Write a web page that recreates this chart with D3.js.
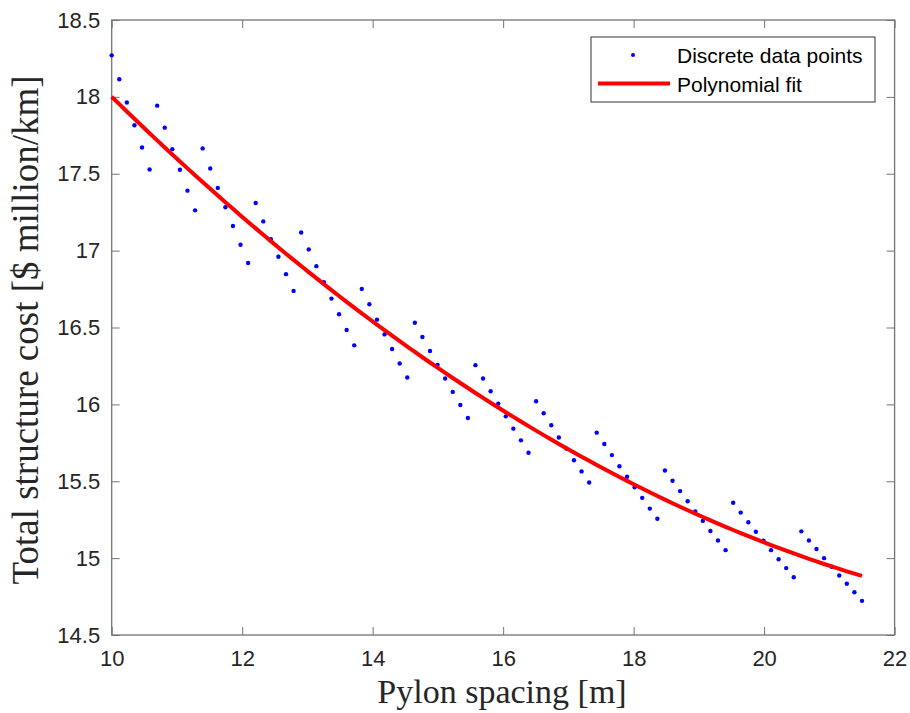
<!DOCTYPE html>
<html>
<head>
<meta charset="utf-8">
<script src="https://cdn.jsdelivr.net/npm/d3@7"></script>
<style>
  body { margin: 0; background: #fff; }
  svg { display: block; }
</style>
</head>
<body>
<svg id="chart" width="910" height="713"></svg>
<script>
// cost per km; x runs linspace(10, 21.5, 100)
var xStart = 10, xEnd = 21.5, nPoints = 100;
var costValues = [
  18.27, 18.115, 17.963, 17.815, 17.671, 17.528,
  17.943, 17.80, 17.66, 17.526, 17.39, 17.262,
  17.665, 17.534, 17.408, 17.282, 17.16, 17.038, 16.92,
  17.31, 17.19, 17.075, 16.96, 16.847, 16.738,
  17.118, 17.008, 16.899, 16.795, 16.688, 16.586, 16.484, 16.384,
  16.751, 16.651, 16.551, 16.455, 16.36, 16.266, 16.175,
  16.531, 16.438, 16.347, 16.257, 16.168, 16.081, 15.996, 15.911,
  16.255, 16.168, 16.085, 16.004, 15.922, 15.842, 15.766, 15.685,
  16.02, 15.942, 15.864, 15.785, 15.712, 15.637, 15.564, 15.492,
  15.816, 15.742, 15.670, 15.598, 15.529, 15.461, 15.392, 15.322, 15.256,
  15.57, 15.503, 15.436, 15.37, 15.304, 15.242, 15.176, 15.115, 15.052,
  15.36, 15.296, 15.233, 15.172, 15.113, 15.052, 14.993, 14.935, 14.876,
  15.174, 15.115, 15.059, 15.0, 14.944, 14.887, 14.833, 14.778, 14.722
];
var xTicks = [10, 12, 14, 16, 18, 20, 22];
var yTicks = [14.5, 15, 15.5, 16, 16.5, 17, 17.5, 18, 18.5];
var legendLabels = ["Discrete data points", "Polynomial fit"];

var spacing = costValues.map(function (d, i) {
  return xStart + i * (xEnd - xStart) / (nPoints - 1);
});

// quadratic least squares, same as polyfit(x, y, 2)
function quadFit(xs, ys) {
  var S = [0, 0, 0, 0, 0], T = [0, 0, 0];
  for (var i = 0; i < xs.length; i++) {
    var u = xs[i] - 10, p = 1;
    for (var k = 0; k < 5; k++) { S[k] += p; if (k < 3) T[k] += p * ys[i]; p *= u; }
  }
  var A = [[S[0], S[1], S[2], T[0]], [S[1], S[2], S[3], T[1]], [S[2], S[3], S[4], T[2]]];
  for (var c = 0; c < 3; c++) {
    for (var r = c + 1; r < 3; r++) {
      var f = A[r][c] / A[c][c];
      for (var j = c; j < 4; j++) A[r][j] -= f * A[c][j];
    }
  }
  var coef = [0, 0, 0];
  for (var r2 = 2; r2 >= 0; r2--) {
    var s = A[r2][3];
    for (var j2 = r2 + 1; j2 < 3; j2++) s -= A[r2][j2] * coef[j2];
    coef[r2] = s / A[r2][r2];
  }
  return function (x) { var u = x - 10; return coef[0] + coef[1] * u + coef[2] * u * u; };
}
var fit = quadFit(spacing, costValues);

var margin = {left: 111.7, top: 20, right: 15.4, bottom: 78};
var svg = d3.select("#chart");
var W = 910 - margin.left - margin.right, H = 713 - margin.top - margin.bottom;

var x = d3.scaleLinear().domain([10, 22]).range([0, W]);
var y = d3.scaleLinear().domain([14.5, 18.5]).range([H, 0]);

var g = svg.append("g").attr("transform", "translate(" + [margin.left, margin.top] + ")");

var axisColor = "#747474", textColor = "#262626";
var tickFont = "'Liberation Sans', Arial, sans-serif";

function styleAxis(sel, hideText) {
  sel.select(".domain").remove();
  sel.selectAll(".tick line").attr("stroke", axisColor);
  sel.selectAll(".tick text")
    .attr("fill", textColor)
    .style("font-family", tickFont)
    .style("font-size", "22px");
  if (hideText) sel.selectAll(".tick text").remove();
}

g.append("g").attr("transform", "translate(0," + H + ")")
  .call(d3.axisBottom(x).tickValues(xTicks).tickSize(-8).tickPadding(15).tickFormat(d3.format("d")))
  .call(styleAxis, false);
g.append("g")
  .call(d3.axisTop(x).tickValues(xTicks).tickSize(-8).tickFormat(""))
  .call(styleAxis, true);
g.append("g")
  .call(d3.axisLeft(y).tickValues(yTicks).tickSize(-8).tickPadding(11.5).tickFormat(d3.format("~g")))
  .call(styleAxis, false);
g.append("g").attr("transform", "translate(" + W + ",0)")
  .call(d3.axisRight(y).tickValues(yTicks).tickSize(-8).tickFormat(""))
  .call(styleAxis, true);

g.append("rect")
  .attr("width", W).attr("height", H)
  .attr("fill", "none").attr("stroke", axisColor).attr("stroke-width", 1.3);

// data points
g.append("g").selectAll("circle")
  .data(costValues)
  .join("circle")
    .attr("cx", function (d, i) { return x(spacing[i]); })
    .attr("cy", function (d) { return y(d); })
    .attr("r", 2.2)
    .attr("fill", "#0000ff");

// fitted curve
var line = d3.line()
  .x(function (d) { return x(d); })
  .y(function (d) { return y(fit(d)); });
g.append("path")
  .datum(spacing)
  .attr("d", line)
  .attr("fill", "none")
  .attr("stroke", "#ff0000")
  .attr("stroke-width", 4);

// legend
var lg = svg.append("g").attr("transform", "translate(591,37)");
lg.append("rect").attr("width", 284).attr("height", 65)
  .attr("fill", "#fff").attr("stroke", "#333").attr("stroke-width", 1);
lg.append("circle").attr("cx", 42).attr("cy", 18).attr("r", 2).attr("fill", "#0000ff");
lg.append("line").attr("x1", 7).attr("x2", 79).attr("y1", 46.5).attr("y2", 46.5)
  .attr("stroke", "#ff0000").attr("stroke-width", 4);
lg.selectAll("text").data(legendLabels).join("text")
  .attr("x", 86)
  .attr("y", function (d, i) { return 19 + i * 29; })
  .attr("dy", "0.35em")
  .attr("fill", "#000")
  .style("font-family", tickFont)
  .style("font-size", "21px")
  .text(function (d) { return d; });

// axis titles
var serif = "'Liberation Serif', 'Times New Roman', serif";
svg.append("text")
  .attr("x", 502).attr("y", 703)
  .attr("text-anchor", "middle")
  .attr("fill", textColor)
  .style("font-family", serif).style("font-size", "34px")
  .text("Pylon spacing [m]");
svg.append("text")
  .attr("transform", "translate(38,330) rotate(-90)")
  .attr("text-anchor", "middle")
  .attr("fill", textColor)
  .style("font-family", serif).style("font-size", "37px")
  .text("Total structure cost [$ million/km]");
</script>
</body>
</html>
